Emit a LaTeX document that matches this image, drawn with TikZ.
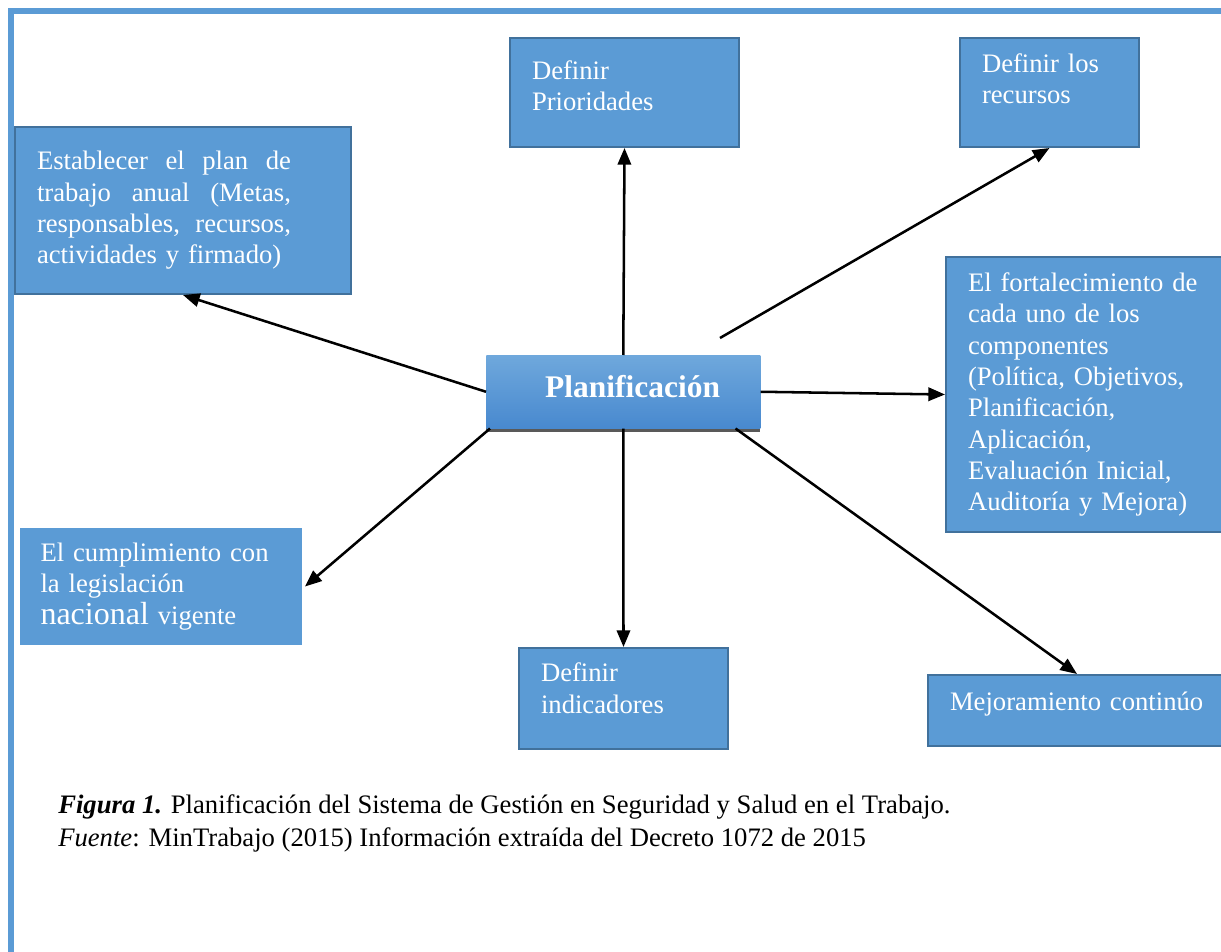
\documentclass[tikz,border=0pt]{standalone}
\usepackage{fontspec}
\setmainfont{Liberation Serif}
\usetikzlibrary{arrows.meta, shadows}

\definecolor{BoxBlue}{HTML}{5B9BD5}
\definecolor{BoxEdge}{HTML}{41719C}
\definecolor{PlanTop}{HTML}{6FA8DC}
\definecolor{PlanBottom}{HTML}{4889CF}

\begin{document}
\begin{tikzpicture}[x=0.75pt, y=-0.75pt,
    cajatexto/.style={draw=BoxEdge, fill=BoxBlue, line width=1.5pt, text=white,
        anchor=north west, inner xsep=16.5pt, align=left,
        font=\fontsize{20}{23.5}\selectfont},
    flecha/.style={-{Triangle[length=12.5pt, width=10pt]}, line width=1.9pt}]

    \useasboundingbox (0,0) rectangle (1221,952);

    % === Marco ===
    \draw[BoxBlue, line width=4.5pt] (11,952) -- (11,11.5) -- (1221,11.5);

    % === Cajas ===
    \node[cajatexto, minimum width=252pt, minimum height=125.25pt, text width=219pt] (plantrabajo) at (14,126)
        {\makebox[190.5pt][l]{Establecer\hfill el\hfill plan\hfill de}\\
         \makebox[190.5pt][l]{trabajo\hfill anual\hfill (Metas,}\\
         \makebox[190.5pt][l]{responsables,\hfill recursos,}\\
         actividades y firmado)};
    \node[cajatexto, minimum width=171.75pt, minimum height=81.75pt, text width=138.75pt,
        text depth=34pt] (prioridades) at (509,37)
        {Definir\\ Prioridades};
    \node[cajatexto, minimum width=134.25pt, minimum height=81.75pt, text width=101.25pt,
        text depth=44.5pt] (recursos) at (959,37)
        {Definir los\\ recursos};
    \node[cajatexto, minimum width=210pt, minimum height=206.25pt, text width=177pt] (componentes) at (945,256)
        {El fortalecimiento de\\ cada uno de los\\ componentes\\ (Política, Objetivos,\\
         Planificación,\\ Aplicación,\\ Evaluación Inicial,\\ Auditoría y Mejora)};
    \node[cajatexto, draw=white, line width=2.25pt, minimum width=213.75pt, minimum height=90pt, text width=180.75pt,
        inner xsep=14.25pt] (legislacion) at (17,525)
        {El cumplimiento con\\ la legislación\\ {\fontsize{24}{28}\selectfont nacional} vigente};
    \node[cajatexto, minimum width=156.75pt, minimum height=75.75pt, text width=123.75pt,
        text depth=39pt] (indicadores) at (518,647)
        {Definir\\ indicadores};
    \node[cajatexto, minimum width=223.5pt, minimum height=53.25pt, text width=190.5pt,
        text depth=13.5pt] (mejora) at (927,674)
        {Mejoramiento continúo};

    % === Nodo central ===
    \node[anchor=north west, top color=PlanTop, bottom color=PlanBottom,
        drop shadow={shadow xshift=0pt, shadow yshift=-3pt, fill=black!65, opacity=1},
        minimum width=205.5pt, minimum height=54.75pt, text=white, text depth=7.5pt,
        font=\fontsize{23.6}{28}\selectfont\bfseries] (planif) at (486,355)
        {\hspace*{14pt}Planificación};

    % === Flechas ===
    \coordinate (inicio) at (720,338);
    \draw[flecha] (planif.north) -- (prioridades.south);
    \draw[flecha] (inicio) -- (recursos.south);
    \draw[flecha] (planif.east) -- (componentes.west);
    \draw[flecha] ([xshift=-18.75pt]planif.south east) -- (mejora.north);
    \draw[flecha] (planif.south) -- (indicadores.north);
    \draw[flecha] ([xshift=3pt]planif.south west) -- (legislacion.east);
    \draw[flecha] (planif.west) -- (plantrabajo.south);

    % === Pie de figura ===
    \node[anchor=base west, inner sep=0pt, font=\fontsize{20}{24}\selectfont] (figura) at (58,813)
        {\textbf{\textit{Figura 1.}} Planificación del Sistema de Gestión en Seguridad y Salud en el Trabajo.};
    \node[anchor=base west, inner sep=0pt, font=\fontsize{20}{24}\selectfont] (fuente) at (58,846)
        {\textit{Fuente}: MinTrabajo (2015) Información extraída del Decreto 1072 de 2015};
\end{tikzpicture}
\end{document}
